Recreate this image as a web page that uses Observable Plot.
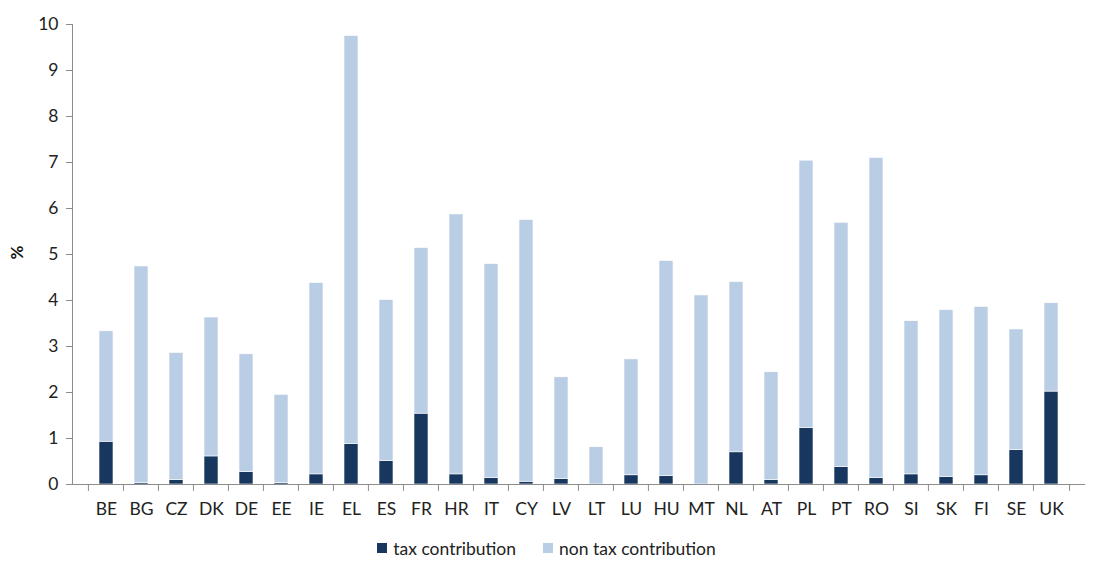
<!DOCTYPE html>
<html>
<head>
<meta charset="utf-8">
<script src="https://cdn.jsdelivr.net/npm/d3@7"></script>
<script src="https://cdn.jsdelivr.net/npm/@observablehq/plot@0.6"></script>
<style>
  html, body { margin: 0; padding: 0; background: #fff; }
  #chart { width: 1103px; font-family: Lato, "Open Sans", sans-serif; }
  .legend { display: flex; justify-content: center; align-items: center; gap: 27px; font-size: 17.5px; color: #222; height: 36px; padding-right: 10px; }
  .legend span.item { display: inline-flex; align-items: center; }
  .legend i { display: inline-block; width: 10px; height: 10px; margin-right: 6px; }
</style>
</head>
<body>
<div id="chart"></div>
<script>
const countries = ["BE","BG","CZ","DK","DE","EE","IE","EL","ES","FR","HR","IT","CY","LV","LT","LU","HU","MT","NL","AT","PL","PT","RO","SI","SK","FI","SE","UK"];
const taxContribution = [0.93,0.03,0.10,0.61,0.27,0.03,0.22,0.88,0.51,1.54,0.22,0.14,0.06,0.12,0.00,0.20,0.18,0.00,0.70,0.10,1.23,0.38,0.14,0.22,0.16,0.20,0.75,2.02];
const nonTaxContribution = [2.40,4.71,2.76,3.02,2.56,1.92,4.16,8.87,3.50,3.60,5.65,4.65,5.69,2.21,0.81,2.52,4.68,4.11,3.70,2.34,5.81,5.31,6.96,3.33,3.63,3.66,2.62,1.92];
const seriesNames = ["tax contribution", "non tax contribution"];
const seriesColors = ["#17375E", "#B9CDE5"];
const yTicks = [0,1,2,3,4,5,6,7,8,9,10];

const data = [];
countries.forEach((c, i) => {
  data.push({country: c, series: seriesNames[0], value: taxContribution[i]});
  data.push({country: c, series: seriesNames[1], value: nonTaxContribution[i]});
});

const W = 1103, H = 530, mL = 72, mR = 19, mT = 24, mB = 46;
const bw = (W - mL - mR) / countries.length;
const axisGray = "#8c8c8c";
const textColor = "#222";
const fs = 17.5;

const plot = Plot.plot({
  width: W,
  height: H,
  marginLeft: mL,
  marginRight: mR,
  marginTop: mT,
  marginBottom: mB,
  style: {fontFamily: "Lato, 'Open Sans', sans-serif", fontSize: fs + "px", color: textColor, background: "#fff", overflow: "visible"},
  x: {domain: countries, padding: 0.6, label: null},
  y: {domain: [0, 10], label: null},
  color: {domain: seriesNames, range: seriesColors},
  marks: [
    Plot.barY(data, {x: "country", y: "value", fill: "series", order: seriesNames, stroke: "#fff", strokeWidth: 0.6}),
    Plot.frame({anchor: "left", stroke: axisGray}),
    Plot.frame({anchor: "bottom", stroke: axisGray}),
    Plot.ruleX(countries, {x: d => d, y1: 0, y2: -0.15, dx: -bw / 2, stroke: axisGray}),
    Plot.ruleX(countries.slice(-1), {x: d => d, y1: 0, y2: -0.15, dx: bw / 2, stroke: axisGray}),
    Plot.axisY(yTicks, {tickSize: 6, tickPadding: 8, stroke: axisGray, fill: textColor, label: null, fontSize: fs}),
    Plot.axisX({tickSize: 0, tickPadding: 18, fill: textColor, label: null, fontSize: fs}),
    Plot.text(["%"], {frameAnchor: "left", rotate: -90, dx: -55, dy: 5, fontWeight: "bold", fontSize: 17, fill: "#111"})
  ]
});

const chart = document.getElementById("chart");
chart.appendChild(plot);

const legend = document.createElement("div");
legend.className = "legend";
seriesNames.forEach((name, i) => {
  const item = document.createElement("span");
  item.className = "item";
  const sw = document.createElement("i");
  sw.style.background = seriesColors[i];
  item.appendChild(sw);
  item.appendChild(document.createTextNode(name));
  legend.appendChild(item);
});
chart.appendChild(legend);
</script>
</body>
</html>
